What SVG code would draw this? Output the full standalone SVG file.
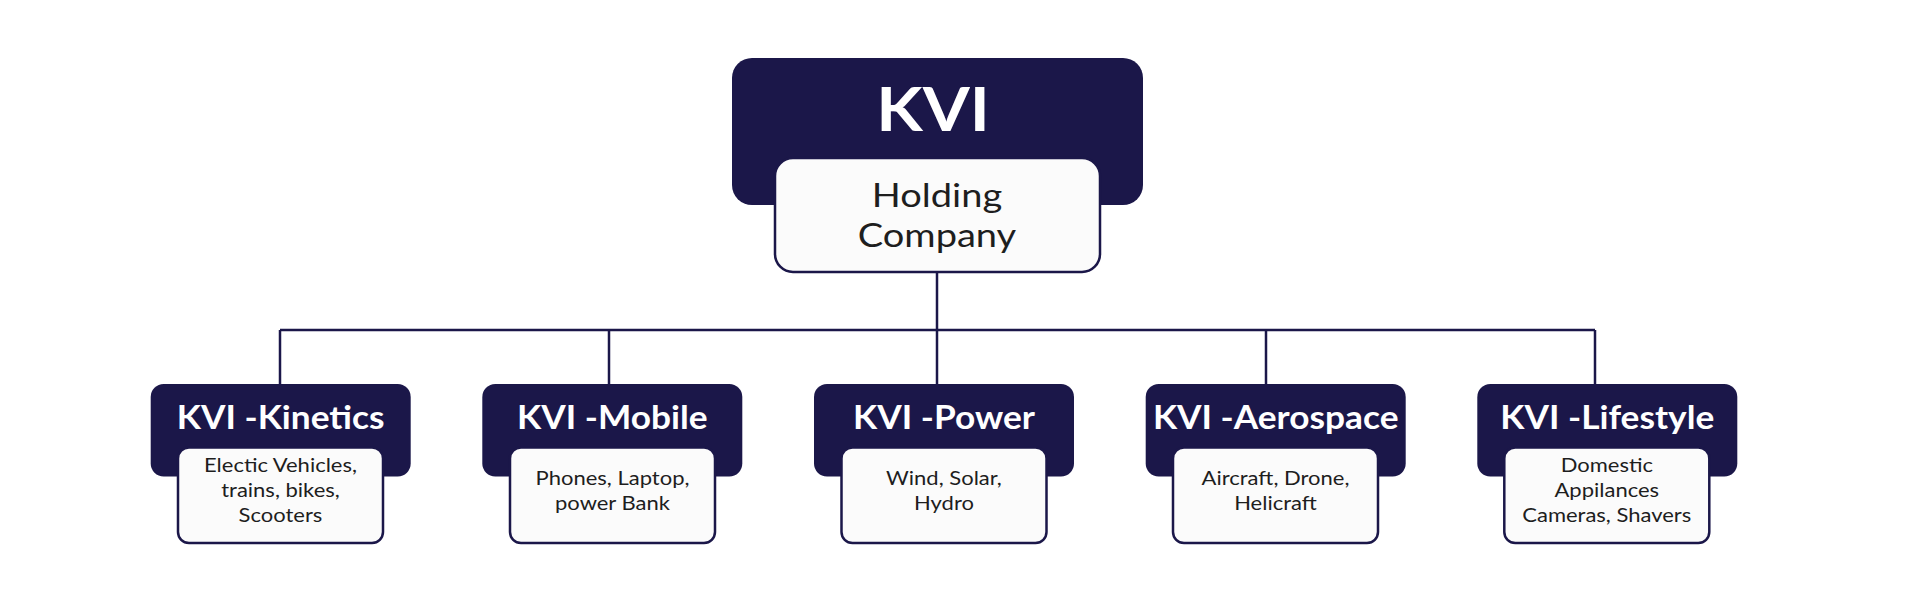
<svg xmlns="http://www.w3.org/2000/svg" width="1920" height="608" viewBox="0 0 1920 608">
<style>
.dark{fill:#1b1749;}
.card{fill:#fbfbfb;stroke:#1b1749;stroke-width:2.5;}
.conn{fill:none;stroke:#1b1749;stroke-width:2.5;}
text{transform-box:fill-box;transform-origin:center;}
.top{font-family:Lato,"Liberation Sans",sans-serif;font-weight:700;font-size:61px;fill:#ffffff;text-anchor:middle;transform:scaleX(1.11);}
.hold{font-family:Lato,"Liberation Sans",sans-serif;font-size:32.5px;fill:#1e1e1e;text-anchor:middle;transform:scaleX(1.17);}
.title{font-family:Lato,"Liberation Sans",sans-serif;font-weight:700;font-size:31.5px;fill:#ffffff;text-anchor:middle;transform:scaleX(1.12);}
.sub{font-family:Lato,"Liberation Sans",sans-serif;font-size:20px;fill:#1e1e1e;text-anchor:middle;transform:scaleX(1.1);}
</style>
<rect width="1920" height="608" fill="#ffffff"/>
<g id="connectors">
<line class="conn" x1="937" y1="273" x2="937" y2="384"/>
<line class="conn" x1="280" y1="330" x2="1595" y2="330"/>
<line class="conn" x1="280" y1="330" x2="280" y2="384"/>
<line class="conn" x1="609" y1="330" x2="609" y2="384"/>
<line class="conn" x1="1266" y1="330" x2="1266" y2="384"/>
<line class="conn" x1="1595" y1="330" x2="1595" y2="384"/>
</g>
<g id="kvi">
<rect class="dark" x="732" y="58" width="411" height="147" rx="20"/>
<text class="top" x="933" y="131">KVI</text>
<rect class="card" x="775" y="158" width="325" height="114" rx="18"/>
<text class="hold" x="937" y="207">Holding</text>
<text class="hold" x="937" y="247">Company</text>
</g>
<g id="kinetics">
<rect class="dark" x="150.7" y="384" width="260" height="92.5" rx="13"/>
<text class="title" x="280.7" y="429">KVI -Kinetics</text>
<rect class="card" x="178" y="447.5" width="205" height="95.5" rx="11"/>
<text class="sub" x="280.5" y="472">Electic Vehicles,</text>
<text class="sub" x="280.5" y="497">trains, bikes,</text>
<text class="sub" x="280.5" y="522">Scooters</text>
</g>
<g id="mobile">
<rect class="dark" x="482.3" y="384" width="260" height="92.5" rx="13"/>
<text class="title" x="612.3" y="429">KVI -Mobile</text>
<rect class="card" x="510" y="447.5" width="205" height="95.5" rx="11"/>
<text class="sub" x="612.5" y="485">Phones, Laptop,</text>
<text class="sub" x="612.5" y="510">power Bank</text>
</g>
<g id="power">
<rect class="dark" x="814" y="384" width="260" height="92.5" rx="13"/>
<text class="title" x="944" y="429">KVI -Power</text>
<rect class="card" x="841.5" y="447.5" width="205" height="95.5" rx="11"/>
<text class="sub" x="944" y="485">Wind, Solar,</text>
<text class="sub" x="944" y="510">Hydro</text>
</g>
<g id="aerospace">
<rect class="dark" x="1145.7" y="384" width="260" height="92.5" rx="13"/>
<text class="title" x="1275.7" y="429">KVI -Aerospace</text>
<rect class="card" x="1173" y="447.5" width="205" height="95.5" rx="11"/>
<text class="sub" x="1275.5" y="485">Aircraft, Drone,</text>
<text class="sub" x="1275.5" y="510">Helicraft</text>
</g>
<g id="lifestyle">
<rect class="dark" x="1477.3" y="384" width="260" height="92.5" rx="13"/>
<text class="title" x="1607.3" y="429">KVI -Lifestyle</text>
<rect class="card" x="1504.3" y="447.5" width="205" height="95.5" rx="11"/>
<text class="sub" x="1606.8" y="472">Domestic</text>
<text class="sub" x="1606.8" y="497">Appilances</text>
<text class="sub" x="1606.8" y="522">Cameras, Shavers</text>
</g>
</svg>
